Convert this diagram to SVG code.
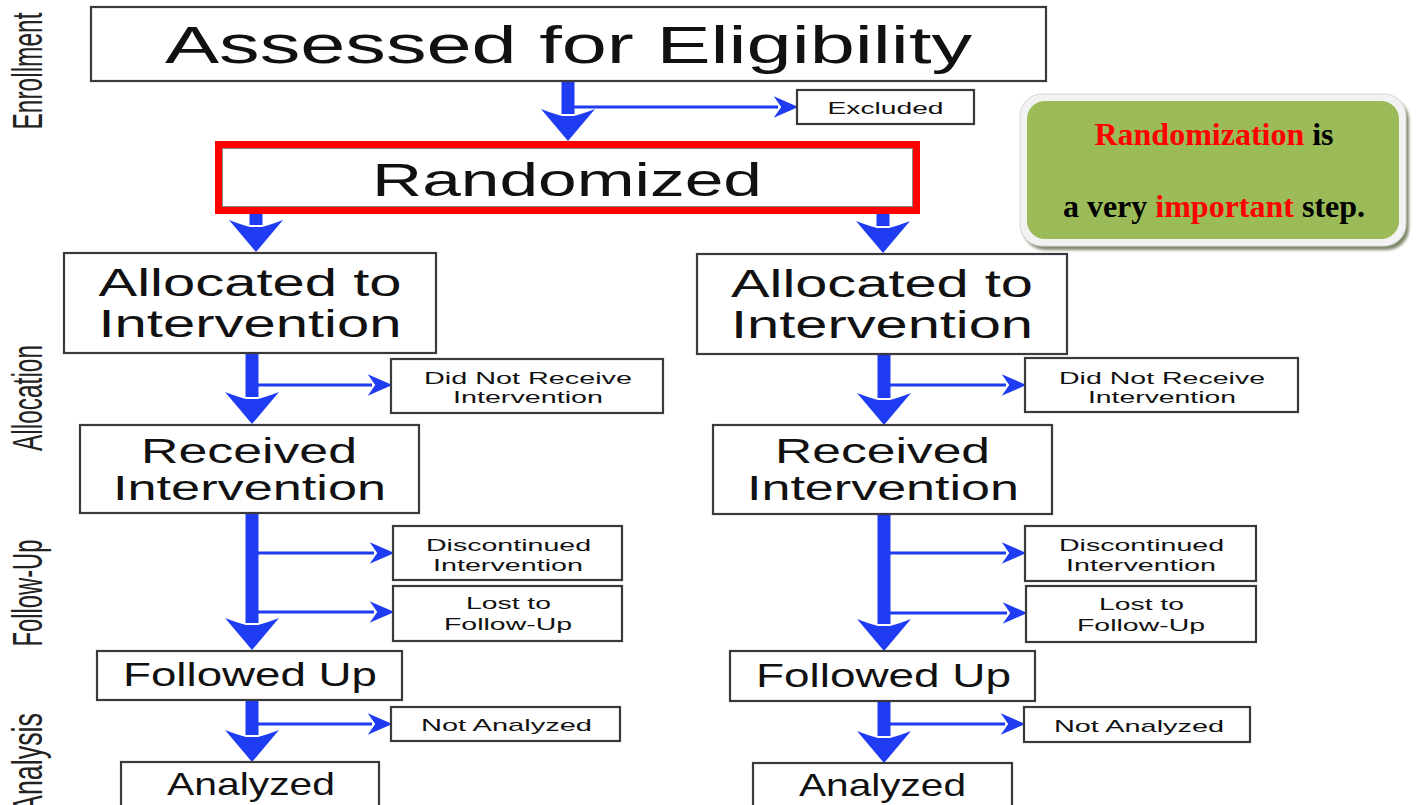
<svg xmlns="http://www.w3.org/2000/svg" width="1417" height="805" viewBox="0 0 1417 805">
<style>
.box{fill:#fff;stroke:#3a3a3a;stroke-width:2.2}
.t{font-family:"Liberation Sans",Arial,sans-serif;fill:#111;text-anchor:middle}
.side{font-family:"Liberation Sans Narrow","Liberation Sans",Arial,sans-serif;fill:#222;text-anchor:middle;font-size:28px}
.thick{stroke:#1f3cf2;stroke-width:13;fill:none}
.thin{stroke:#1f3cf2;stroke-width:3.2;fill:none}
.note{font-family:"Liberation Serif","Times New Roman",serif;font-weight:bold;font-size:32px;text-anchor:middle}
.red{fill:#ff0000}
.blk{fill:#000}
</style>
<defs>
<marker id="hk" markerUnits="userSpaceOnUse" orient="auto" refX="0" refY="0" markerWidth="60" markerHeight="60" viewBox="-10 -30 40 60" overflow="visible">
<path d="M27,0 L-5,-27 Q0,-14 2,-6 L2,6 Q0,14 -5,27 Z" fill="#1f3cf2"/>
</marker>
<marker id="hn" markerUnits="userSpaceOnUse" orient="auto" refX="0" refY="0" markerWidth="30" markerHeight="30" viewBox="-6 -12 28 24" overflow="visible">
<path d="M19,0 L-4,-10 L3,0 L-4,10 Z" fill="#1f3cf2"/>
</marker>
<filter id="sh" x="-10%" y="-10%" width="120%" height="130%">
<feGaussianBlur stdDeviation="1.5"/>
</filter>
</defs>
<rect width="1417" height="805" fill="#fff"/>

<g id="labels">
<text class="side" transform="translate(42,71) scale(1.5,1) rotate(-90)" textLength="117" lengthAdjust="spacingAndGlyphs">Enrollment</text>
<text class="side" transform="translate(42,398) scale(1.5,1) rotate(-90)" textLength="106" lengthAdjust="spacingAndGlyphs">Allocation</text>
<text class="side" transform="translate(42,593) scale(1.5,1) rotate(-90)" textLength="107" lengthAdjust="spacingAndGlyphs">Follow-Up</text>
<text class="side" transform="translate(42,763) scale(1.5,1) rotate(-90)" textLength="100" lengthAdjust="spacingAndGlyphs">Analysis</text>
</g>

<g id="connectors">
<line class="thick" x1="568" y1="81" x2="568" y2="114" marker-end="url(#hk)"/>
<line class="thin" x1="574" y1="107" x2="778" y2="107" marker-end="url(#hn)"/>
<line class="thick" x1="256" y1="214" x2="256" y2="225" marker-end="url(#hk)"/>
<line class="thick" x1="883" y1="214" x2="883" y2="226" marker-end="url(#hk)"/>

<line class="thick" x1="252" y1="353" x2="252" y2="397" marker-end="url(#hk)"/>
<line class="thin" x1="258" y1="385" x2="372" y2="385" marker-end="url(#hn)"/>
<line class="thick" x1="252" y1="513" x2="252" y2="623" marker-end="url(#hk)"/>
<line class="thin" x1="258" y1="553" x2="374" y2="553" marker-end="url(#hn)"/>
<line class="thin" x1="258" y1="612" x2="374" y2="612" marker-end="url(#hn)"/>
<line class="thick" x1="252" y1="700" x2="252" y2="735" marker-end="url(#hk)"/>
<line class="thin" x1="258" y1="724" x2="372" y2="724" marker-end="url(#hn)"/>

<line class="thick" x1="884" y1="354" x2="884" y2="398" marker-end="url(#hk)"/>
<line class="thin" x1="890" y1="385" x2="1006" y2="385" marker-end="url(#hn)"/>
<line class="thick" x1="884" y1="514" x2="884" y2="624" marker-end="url(#hk)"/>
<line class="thin" x1="890" y1="553" x2="1006" y2="553" marker-end="url(#hn)"/>
<line class="thin" x1="890" y1="613" x2="1007" y2="613" marker-end="url(#hn)"/>
<line class="thick" x1="884" y1="701" x2="884" y2="736" marker-end="url(#hk)"/>
<line class="thin" x1="890" y1="724" x2="1005" y2="724" marker-end="url(#hn)"/>
</g>

<g id="assessed">
<rect class="box" x="91" y="7" width="955" height="74"/>
<text class="t" x="568.5" y="63" font-size="51" textLength="807" lengthAdjust="spacingAndGlyphs">Assessed for Eligibility</text>
</g>
<g id="excluded">
<rect class="box" x="797" y="90" width="177" height="34"/>
<text class="t" x="885.5" y="114" font-size="17" textLength="116" lengthAdjust="spacingAndGlyphs">Excluded</text>
</g>
<g id="randomized">
<rect x="218.5" y="144.5" width="698" height="66" fill="#fff" stroke="#ff0000" stroke-width="7"/>
<rect x="222.5" y="148.5" width="690" height="58" fill="none" stroke="#888" stroke-width="1"/>
<text class="t" x="567" y="196" font-size="46" textLength="390" lengthAdjust="spacingAndGlyphs">Randomized</text>
</g>

<g id="callout">
<rect x="1023" y="98" width="386" height="152" rx="22" fill="#7d8a6a" filter="url(#sh)"/>
<rect x="1020" y="94" width="386" height="152" rx="22" fill="#f2f2f2" stroke="#d8d8d8" stroke-width="1"/>
<rect x="1027" y="101" width="372" height="138" rx="18" fill="#9bbb59"/>
<text class="note" x="1214" y="145"><tspan class="red">Randomization</tspan><tspan class="blk"> is</tspan></text>
<text class="note" x="1214" y="217"><tspan class="blk">a very </tspan><tspan class="red">important</tspan><tspan class="blk"> step.</tspan></text>
</g>

<g id="alloc-l">
<rect class="box" x="64" y="253" width="372" height="100"/>
<text class="t" x="250" y="296" font-size="38" textLength="303" lengthAdjust="spacingAndGlyphs">Allocated to</text>
<text class="t" x="250" y="337" font-size="38" textLength="303" lengthAdjust="spacingAndGlyphs">Intervention</text>
</g>
<g id="dnr-l">
<rect class="box" x="391" y="359" width="272" height="54"/>
<text class="t" x="528" y="384" font-size="17" textLength="208" lengthAdjust="spacingAndGlyphs">Did Not Receive</text>
<text class="t" x="528" y="403" font-size="17" textLength="150" lengthAdjust="spacingAndGlyphs">Intervention</text>
</g>
<g id="recv-l">
<rect class="box" x="80" y="425" width="339" height="88"/>
<text class="t" x="249" y="463" font-size="35" textLength="216" lengthAdjust="spacingAndGlyphs">Received</text>
<text class="t" x="249.5" y="500" font-size="35" textLength="273" lengthAdjust="spacingAndGlyphs">Intervention</text>
</g>
<g id="disc-l">
<rect class="box" x="393" y="526" width="229" height="54"/>
<text class="t" x="508.5" y="551" font-size="17" textLength="165" lengthAdjust="spacingAndGlyphs">Discontinued</text>
<text class="t" x="508" y="571" font-size="17" textLength="150" lengthAdjust="spacingAndGlyphs">Intervention</text>
</g>
<g id="lost-l">
<rect class="box" x="393" y="586" width="229" height="55"/>
<text class="t" x="508.5" y="609" font-size="17" textLength="85" lengthAdjust="spacingAndGlyphs">Lost to</text>
<text class="t" x="508" y="630" font-size="17" textLength="128" lengthAdjust="spacingAndGlyphs">Follow-Up</text>
</g>
<g id="fu-l">
<rect class="box" x="97" y="651" width="305" height="49"/>
<text class="t" x="250" y="686" font-size="34" textLength="254" lengthAdjust="spacingAndGlyphs">Followed Up</text>
</g>
<g id="na-l">
<rect class="box" x="391" y="707" width="229" height="34"/>
<text class="t" x="506.5" y="731" font-size="17" textLength="171" lengthAdjust="spacingAndGlyphs">Not Analyzed</text>
</g>
<g id="an-l">
<rect class="box" x="121" y="762" width="258" height="50"/>
<text class="t" x="251" y="795" font-size="32" textLength="168" lengthAdjust="spacingAndGlyphs">Analyzed</text>
</g>

<g id="alloc-r">
<rect class="box" x="697" y="254" width="370" height="100"/>
<text class="t" x="882" y="297" font-size="38" textLength="302" lengthAdjust="spacingAndGlyphs">Allocated to</text>
<text class="t" x="882" y="338" font-size="38" textLength="302" lengthAdjust="spacingAndGlyphs">Intervention</text>
</g>
<g id="dnr-r">
<rect class="box" x="1025" y="358" width="273" height="54"/>
<text class="t" x="1162" y="384" font-size="17" textLength="206" lengthAdjust="spacingAndGlyphs">Did Not Receive</text>
<text class="t" x="1162" y="403" font-size="17" textLength="148" lengthAdjust="spacingAndGlyphs">Intervention</text>
</g>
<g id="recv-r">
<rect class="box" x="713" y="425" width="339" height="89"/>
<text class="t" x="882.5" y="463" font-size="35" textLength="215" lengthAdjust="spacingAndGlyphs">Received</text>
<text class="t" x="883" y="500" font-size="35" textLength="272" lengthAdjust="spacingAndGlyphs">Intervention</text>
</g>
<g id="disc-r">
<rect class="box" x="1025" y="526" width="231" height="55"/>
<text class="t" x="1141.5" y="551" font-size="17" textLength="165" lengthAdjust="spacingAndGlyphs">Discontinued</text>
<text class="t" x="1141" y="571" font-size="17" textLength="150" lengthAdjust="spacingAndGlyphs">Intervention</text>
</g>
<g id="lost-r">
<rect class="box" x="1026" y="586" width="230" height="56"/>
<text class="t" x="1141.5" y="610" font-size="17" textLength="85" lengthAdjust="spacingAndGlyphs">Lost to</text>
<text class="t" x="1141" y="631" font-size="17" textLength="128" lengthAdjust="spacingAndGlyphs">Follow-Up</text>
</g>
<g id="fu-r">
<rect class="box" x="730" y="651" width="305" height="50"/>
<text class="t" x="883.5" y="687" font-size="34" textLength="255" lengthAdjust="spacingAndGlyphs">Followed Up</text>
</g>
<g id="na-r">
<rect class="box" x="1024" y="707" width="226" height="35"/>
<text class="t" x="1139" y="732" font-size="17" textLength="170" lengthAdjust="spacingAndGlyphs">Not Analyzed</text>
</g>
<g id="an-r">
<rect class="box" x="753" y="763" width="259" height="50"/>
<text class="t" x="882.5" y="796" font-size="32" textLength="167" lengthAdjust="spacingAndGlyphs">Analyzed</text>
</g>
</svg>
